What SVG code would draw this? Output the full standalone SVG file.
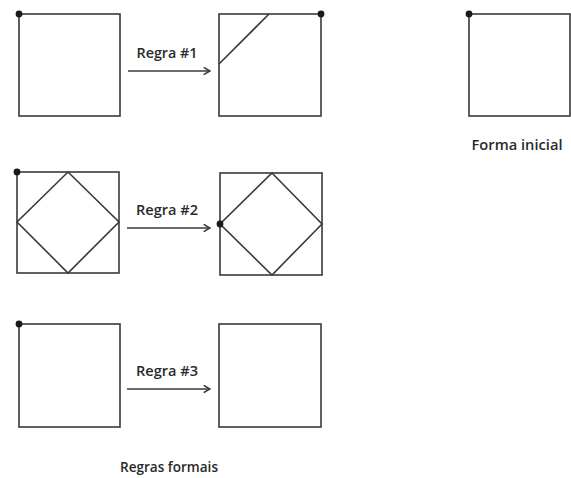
<svg xmlns="http://www.w3.org/2000/svg" width="571" height="478" viewBox="0 0 571 478">
<defs>
<style>
.sq{fill:none;stroke:#3a3a3a;stroke-width:1.6}
.ln{fill:none;stroke:#3a3a3a;stroke-width:1.6}
.dot{fill:#1a1a1a}
.lbl{font-family:"Open Sans","Liberation Sans",sans-serif;font-weight:600;font-size:14.5px;fill:#2a2a2a}
.conn{fill:none;stroke:#3a3a3a;stroke-width:1.6}
</style>
<marker id="arr" viewBox="0 0 10 10" refX="9" refY="5" markerWidth="9" markerHeight="9" markerUnits="userSpaceOnUse" orient="auto">
<path d="M2,1 L9,5 L2,9" fill="none" stroke="#3a3a3a" stroke-width="1.8"/>
</marker>
</defs>
<rect width="571" height="478" fill="#fff"/>
<g id="r1-left">
<rect class="sq" x="19" y="14" width="101" height="102"/>
<circle class="dot" cx="19" cy="14" r="3.4"/>
</g>
<g id="r1-right">
<rect class="sq" x="219" y="14" width="102" height="102"/>
<line class="ln" x1="219" y1="64" x2="269" y2="14"/>
<circle class="dot" cx="321" cy="14" r="3.4"/>
</g>
<g id="r2-left">
<rect class="sq" x="17" y="172" width="102" height="101"/>
<polygon class="ln" points="68,172 119,222 68,273 17,222"/>
<circle class="dot" cx="17" cy="172" r="3.4"/>
</g>
<g id="r2-right">
<rect class="sq" x="220" y="173" width="102" height="102"/>
<polygon class="ln" points="272,173 322,224 272,275 220,224"/>
<circle class="dot" cx="220" cy="224" r="3.4"/>
</g>
<g id="r3-left">
<rect class="sq" x="19" y="324" width="101" height="103"/>
<circle class="dot" cx="19" cy="324" r="3.4"/>
</g>
<g id="r3-right">
<rect class="sq" x="219" y="324" width="102" height="103"/>
</g>
<g id="initial">
<rect class="sq" x="469" y="14" width="101" height="102"/>
<circle class="dot" cx="469" cy="14" r="3.4"/>
<text class="lbl" x="517" y="150" text-anchor="middle" textLength="91" lengthAdjust="spacingAndGlyphs">Forma inicial</text>
</g>
<g id="connectors">
<line class="conn" x1="128" y1="71" x2="210" y2="71" marker-end="url(#arr)"/>
<line class="conn" x1="127" y1="228" x2="210" y2="228" marker-end="url(#arr)"/>
<line class="conn" x1="127" y1="389" x2="210" y2="389" marker-end="url(#arr)"/>
</g>
<g id="labels">
<text class="lbl" x="167" y="58" text-anchor="middle" textLength="61" lengthAdjust="spacingAndGlyphs">Regra #1</text>
<text class="lbl" x="167" y="215" text-anchor="middle" textLength="62" lengthAdjust="spacingAndGlyphs">Regra #2</text>
<text class="lbl" x="167" y="376" text-anchor="middle" textLength="62" lengthAdjust="spacingAndGlyphs">Regra #3</text>
<text class="lbl" x="169" y="472" text-anchor="middle" textLength="98" lengthAdjust="spacingAndGlyphs">Regras formais</text>
</g>
</svg>
